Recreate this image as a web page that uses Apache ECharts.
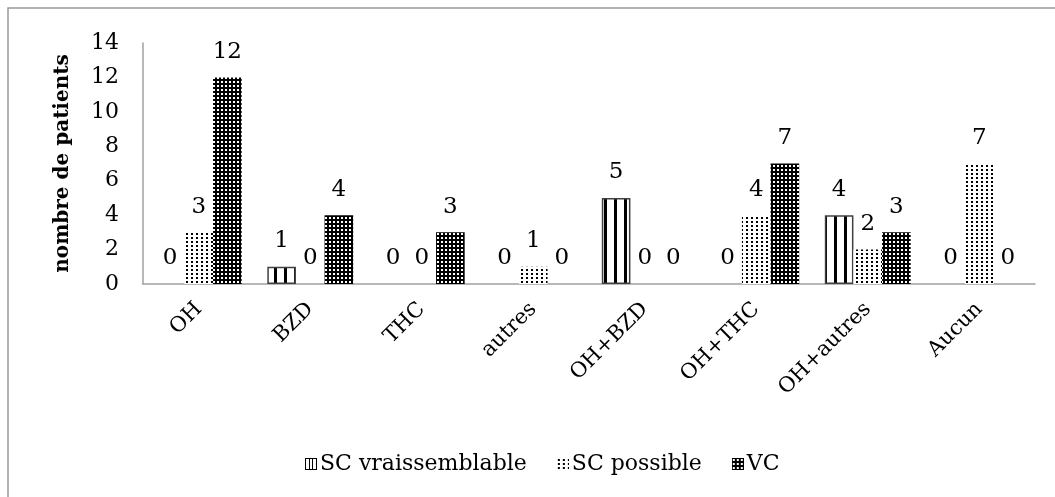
<!DOCTYPE html>
<html>
<head>
<meta charset="utf-8">
<script src="https://cdn.jsdelivr.net/npm/echarts@6/dist/echarts.min.js"></script>
<style>
  html, body { margin: 0; padding: 0; background: #fff; }
  #chart { width: 1055px; height: 497px; }
</style>
</head>
<body>
<div id="chart"></div>
<script>
// donnees
const categories = ["OH", "BZD", "THC", "autres", "OH+BZD", "OH+THC", "OH+autres", "Aucun"];
const seriesNames = ["SC vraissemblable", "SC possible", "VC"];
const scVraissemblable = [0, 1, 0, 0, 5, 0, 4, 0];
const scPossible = [3, 0, 0, 1, 0, 4, 2, 7];
const vc = [12, 4, 3, 0, 0, 7, 3, 0];
const yMax = 14;
const yStep = 2;

const font = "DejaVu Serif";

// motifs de remplissage (hachures / points)
function makePattern(kind) {
    const c = document.createElement("canvas");
    const ctx = c.getContext("2d");
    if (kind === "stripes") {
        c.width = 10; c.height = 4;
        ctx.fillStyle = "#fff"; ctx.fillRect(0, 0, 10, 4);
        ctx.fillStyle = "#000"; ctx.fillRect(4, 0, 3, 4);
    } else if (kind === "dots") {
        c.width = 5; c.height = 4;
        ctx.fillStyle = "#fff"; ctx.fillRect(0, 0, 5, 4);
        ctx.fillStyle = "#000"; ctx.fillRect(1, 1, 2, 2);
    } else {
        c.width = 4; c.height = 4;
        ctx.fillStyle = "#000"; ctx.fillRect(0, 0, 4, 4);
        ctx.fillStyle = "#fff"; ctx.fillRect(1, 1, 2, 2);
    }
    return c;
}

function makeIcon(kind) {
    const c = document.createElement("canvas");
    c.width = 12; c.height = 12;
    const ctx = c.getContext("2d");
    const p = ctx.createPattern(makePattern(kind), "repeat");
    ctx.fillStyle = p;
    ctx.fillRect(0, 0, 12, 12);
    if (kind === "stripes") {
        ctx.fillStyle = "#fff"; ctx.fillRect(0, 0, 12, 12);
        ctx.fillStyle = "#000";
        ctx.fillRect(0, 0, 1, 12); ctx.fillRect(11, 0, 1, 12);
        ctx.fillRect(0, 0, 12, 1); ctx.fillRect(0, 11, 12, 1);
        ctx.fillRect(4, 0, 1, 12); ctx.fillRect(7, 0, 1, 12);
    }
    return "image://" + c.toDataURL();
}

const kinds = ["stripes", "dots", "check"];
const dataSets = [scVraissemblable, scPossible, vc];

const chart = echarts.init(document.getElementById("chart"));

chart.setOption({
    animation: false,
    backgroundColor: "#fff",
    graphic: [
        {
            type: "rect",
            shape: { x: 8, y: 8, width: 1100, height: 600 },
            style: { fill: "none", stroke: "#9a9a9a", lineWidth: 1.5 },
            silent: true
        }
    ],
    grid: {
        left: 143,
        right: 20,
        top: 43,
        bottom: 213
    },
    legend: {
        left: 300,
        top: 448,
        itemGap: 30,
        itemWidth: 12,
        itemHeight: 12,
        textStyle: {
            fontFamily: font,
            fontSize: 22,
            color: "#000",
            padding: [0, 0, 0, -2]
        },
        data: seriesNames.map(function (name, i) {
            return { name: name, icon: makeIcon(kinds[i]) };
        })
    },
    xAxis: {
        type: "category",
        data: categories,
        axisLine: { lineStyle: { color: "#a0a0a0", width: 1.5 } },
        axisTick: { show: false },
        axisLabel: {
            rotate: 45,
            margin: 22,
            fontFamily: font,
            fontSize: 21,
            color: "#000"
        }
    },
    yAxis: {
        type: "value",
        min: 0,
        max: yMax,
        interval: yStep,
        name: "nombre de patients",
        nameLocation: "middle",
        nameGap: 70,
        nameTextStyle: {
            fontFamily: font,
            fontSize: 20,
            fontWeight: "bold",
            color: "#000"
        },
        splitLine: { show: false },
        axisTick: { show: false },
        axisLine: { show: true, lineStyle: { color: "#a0a0a0", width: 1.5 } },
        axisLabel: {
            margin: 24,
            fontFamily: font,
            fontSize: 22,
            color: "#000"
        }
    },
    series: seriesNames.map(function (name, i) {
        return {
            name: name,
            type: "bar",
            barGap: "0%",
            barCategoryGap: "23%",
            data: dataSets[i].map(function (v) {
                // pas de contour pour les barres nulles
                return {
                    value: v,
                    itemStyle: {
                        borderColor: i === 0 && v > 0 ? "#404040" : "transparent",
                        borderWidth: i === 0 && v > 0 ? 1.5 : 0
                    }
                };
            }),
            itemStyle: {
                color: { image: makePattern(kinds[i]), repeat: "repeat" }
            },
            label: {
                show: true,
                position: "top",
                distance: 14,
                fontFamily: font,
                fontSize: 23,
                color: "#000"
            }
        };
    })
});
</script>
</body>
</html>
